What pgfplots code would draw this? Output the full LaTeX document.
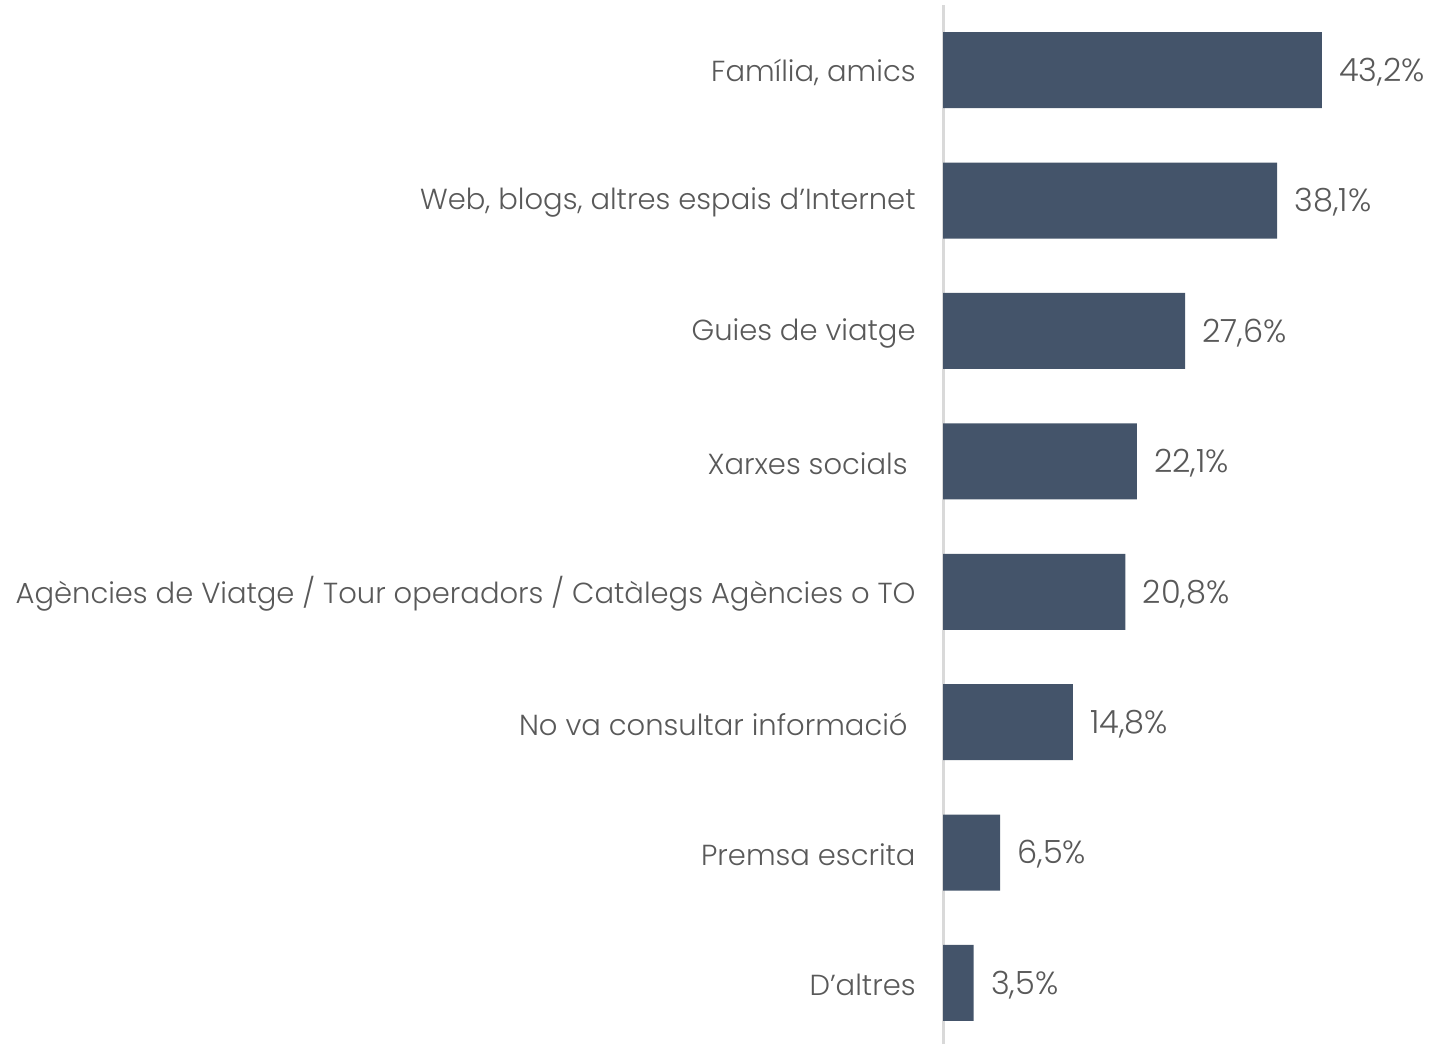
\documentclass[border=0pt]{standalone}
\usepackage{pgfplots}
\pgfplotsset{compat=1.18}
\usepackage{fontspec}
\setmainfont{Poppins Light}
\definecolor{barc}{HTML}{44546A}
\definecolor{txt}{HTML}{595959}
\definecolor{axc}{HTML}{D9D9D9}
\begin{document}
\begin{tikzpicture}
\useasboundingbox (0,0) rectangle (714.5pt,522pt);
\begin{axis}[
  at={(471.5pt,0pt)}, anchor=south west,
  scale only axis,
  width=243pt, height=519.5pt,
  xmin=0, xmax=55.4,
  ymin=-0.468, ymax=7.5,
  xbar, bar width=0.583,
  axis x line=none,
  axis y line*=left,
  y axis line style={draw=axc, line width=1.5pt, -},
  ytick={0,1,2,3,4,5,6,7},
  yticklabels={D’altres, Premsa escrita, {No va consultar informació\kern4pt}, {Agències de Viatge / Tour operadors / Catàlegs Agències o TO}, {Xarxes socials\kern4pt}, Guies de viatge, {Web, blogs, altres espais d’Internet}, {Família, amics}},
  major tick length=0pt,
  ytick style={draw=none},
  yticklabel style={font=\fontsize{14.5}{17}\selectfont, text=txt, inner sep=0pt, xshift=-13.5pt, yshift=-1pt},
  point meta=explicit symbolic,
  nodes near coords,
  nodes near coords style={font=\fontsize{16}{19}\selectfont, text=txt, anchor=west, inner sep=0pt, xshift=8.5pt, yshift=-1pt},
  clip=false,
]
\addplot[fill=barc, draw=none] table[meta=lab] {
x y lab
3.5 0 3,5\%
6.5 1 6,5\%
14.8 2 14,8\%
20.8 3 20,8\%
22.1 4 22,1\%
27.6 5 27,6\%
38.1 6 38,1\%
43.2 7 43,2\%
};
\end{axis}
\end{tikzpicture}
\end{document}
